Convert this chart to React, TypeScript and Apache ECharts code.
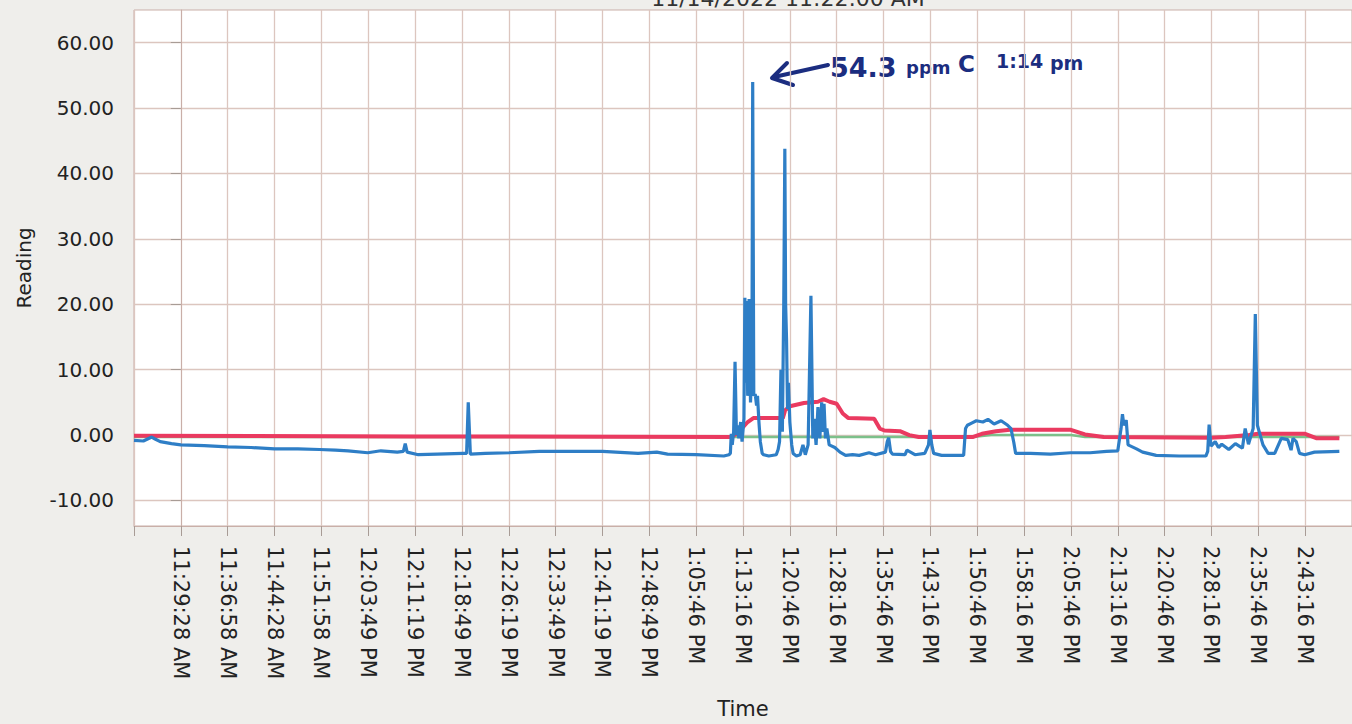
import React, { useEffect, useRef } from 'react';
import * as echarts from 'echarts';

// Tick labels of the time axis (one per grid column)
const TIME_LABELS = [
  '11:29:28 AM', '11:36:58 AM', '11:44:28 AM', '11:51:58 AM', '12:03:49 PM',
  '12:11:19 PM', '12:18:49 PM', '12:26:19 PM', '12:33:49 PM', '12:41:19 PM',
  '12:48:49 PM', '1:05:46 PM', '1:13:16 PM', '1:20:46 PM', '1:28:16 PM',
  '1:35:46 PM', '1:43:16 PM', '1:50:46 PM', '1:58:16 PM', '2:05:46 PM',
  '2:13:16 PM', '2:20:46 PM', '2:28:16 PM', '2:35:46 PM', '2:43:16 PM',
];

const Y_TICKS = [-10, 0, 10, 20, 30, 40, 50, 60];

// Readings: [position along time axis (in tick-label steps), reading]
const BLUE_READING: [number, number][] = [
  [-1.0, -0.8], [-0.8, -0.9], [-0.62, -0.3], [-0.55, -0.6], [-0.44, -1.0], [-0.2, -1.3],
  [0.0, -1.5], [0.5, -1.6], [1.0, -1.8], [1.5, -1.9], [2.0, -2.1], [2.5, -2.1],
  [2.96, -2.2], [3.3, -2.3], [3.57, -2.4], [3.99, -2.7], [4.27, -2.4], [4.62, -2.6],
  [4.75, -2.5], [4.79, -1.3], [4.83, -2.6], [5.07, -3.0], [5.47, -2.9], [6.02, -2.8],
  [6.1, -2.8], [6.135, 5.0], [6.18, -2.9], [6.5, -2.8], [7.01, -2.7], [7.65, -2.5],
  [8.3, -2.5], [9.0, -2.5], [9.76, -2.8], [10.16, -2.6], [10.39, -2.9], [11.0, -3.0],
  [11.59, -3.2], [11.7, -3.0], [11.73, -2.8], [11.75, 0.2], [11.77, -1.5], [11.8, 0.5],
  [11.83, 11.2], [11.86, 0.0], [11.89, 1.5], [11.91, -0.5], [11.95, 2.0], [11.98, -1.0],
  [12.02, 2.5], [12.04, 21.0], [12.06, 8.0], [12.08, 20.5], [12.1, 6.0], [12.13, 20.8],
  [12.16, 5.0], [12.19, 10.0], [12.207, 54.0], [12.23, 6.0], [12.26, 6.3], [12.29, 4.5],
  [12.31, 6.0], [12.34, 2.0], [12.37, -1.0], [12.41, -2.8], [12.44, -3.0], [12.55, -3.2],
  [12.71, -3.0], [12.75, -2.2], [12.78, -1.0], [12.81, 10.0], [12.84, 0.5], [12.87, 20.0],
  [12.893, 43.8], [12.91, 20.0], [12.93, 14.5], [12.95, 4.0], [12.97, 8.0], [13.0, 2.0],
  [13.04, -1.5], [13.07, -2.8], [13.14, -3.2], [13.22, -3.0], [13.28, -1.5], [13.33, -3.0],
  [13.39, -1.5], [13.45, 21.3], [13.49, -0.5], [13.52, 2.5], [13.56, -1.5], [13.6, 4.3],
  [13.64, -0.5], [13.68, 5.0], [13.7, 0.5], [13.73, 4.8], [13.76, -0.5], [13.79, 1.0],
  [13.84, -1.5], [13.96, -1.9], [14.07, -2.6], [14.19, -3.1], [14.34, -3.0], [14.48, -3.1],
  [14.69, -2.7], [14.83, -3.0], [15.04, -2.6], [15.08, -1.0], [15.11, -0.4], [15.15, -2.5],
  [15.19, -2.9], [15.46, -3.0], [15.5, -2.3], [15.67, -3.0], [15.88, -2.8], [15.96, -1.5],
  [15.99, 0.8], [16.03, -1.5], [16.07, -2.8], [16.24, -3.1], [16.71, -3.1], [16.75, 1.0],
  [16.79, 1.5], [16.87, 1.8], [16.98, 2.2], [17.12, 2.0], [17.23, 2.4], [17.36, 1.7],
  [17.51, 2.2], [17.65, 1.5], [17.72, 1.0], [17.78, -1.1], [17.82, -2.8], [18.14, -2.8],
  [18.56, -2.9], [18.99, -2.7], [19.41, -2.7], [19.76, -2.5], [20.0, -2.4], [20.07, 1.0],
  [20.1, 3.2], [20.13, 1.5], [20.18, 2.3], [20.22, -1.5], [20.4, -2.1], [20.53, -2.6],
  [20.82, -3.1], [21.31, -3.2], [21.88, -3.2], [21.92, -2.5], [21.95, 1.6], [21.99, -1.7],
  [22.08, -1.0], [22.15, -1.9], [22.22, -1.4], [22.37, -2.2], [22.51, -1.3], [22.66, -2.0],
  [22.72, 1.0], [22.79, -1.4], [22.89, 1.0], [22.936, 18.5], [22.98, 1.5], [23.04, 0.0],
  [23.1, -1.5], [23.21, -2.8], [23.35, -2.8], [23.49, -0.5], [23.63, -0.7], [23.7, -2.3],
  [23.74, -0.5], [23.81, -1.0], [23.88, -2.8], [23.99, -3.0], [24.2, -2.6], [24.73, -2.5],
];

const RED_READING: [number, number][] = [
  [-1.0, -0.1], [5.0, -0.2], [11.75, -0.3], [11.9, 0.4], [12.0, 1.2], [12.1, 2.0],
  [12.22, 2.6], [12.85, 2.6], [12.9, 3.8], [13.0, 4.4], [13.3, 4.9], [13.6, 5.1],
  [13.72, 5.5], [13.85, 5.1], [14.0, 4.8], [14.13, 3.3], [14.25, 2.6], [14.8, 2.5],
  [14.92, 1.0], [15.02, 0.7], [15.35, 0.6], [15.55, 0.0], [15.75, -0.3], [16.9, -0.3],
  [17.1, 0.2], [17.4, 0.6], [17.7, 0.8], [19.0, 0.8], [19.3, 0.1], [19.7, -0.3],
  [22.0, -0.4], [22.3, -0.3], [22.8, 0.0], [23.0, 0.2], [24.0, 0.2], [24.25, -0.5],
  [24.73, -0.5],
];

const GREEN_READING: [number, number][] = [
  [-1.0, -0.3], [16.9, -0.3], [17.3, 0.0], [19.0, 0.0], [19.3, -0.3], [24.73, -0.3],
];

const FONT = 'DejaVu Sans';
const GRID_COLOR = '#dcc6bf';
const BORDER_COLOR = '#c9afa8';
const INK = '#1b2d80';

export default function App() {
  const ref = useRef<HTMLDivElement>(null);

  useEffect(() => {
    if (!ref.current) return;
    const chart = echarts.init(ref.current, undefined, { renderer: 'svg' });
    chart.setOption({
      animation: false,
      backgroundColor: '#efeeeb',
      grid: {
        left: 134,
        top: 10,
        right: -13,
        bottom: 196,
        show: true,
        backgroundColor: '#ffffff',
        borderColor: BORDER_COLOR,
        borderWidth: 1,
      },
      xAxis: {
        type: 'value',
        min: -1,
        max: 25,
        interval: 1,
        name: 'Time',
        nameLocation: 'middle',
        nameGap: 172,
        nameTextStyle: { fontFamily: FONT, fontSize: 21, color: '#222' },
        axisLine: { show: true, onZero: false, lineStyle: { color: BORDER_COLOR } },
        axisTick: { show: true, length: 10, lineStyle: { color: '#a89c96' } },
        axisLabel: {
          rotate: -90,
          margin: 20,
          fontFamily: FONT,
          fontSize: 21,
          color: '#222',
          formatter: (v: number) => {
            const i = Math.round(v);
            return i >= 0 && i < TIME_LABELS.length ? TIME_LABELS[i] : '';
          },
        },
        splitLine: { show: true, lineStyle: { color: GRID_COLOR, width: 1.3 } },
      },
      yAxis: {
        type: 'value',
        min: -13.9,
        max: 65,
        splitNumber: 8,
        name: 'Reading',
        nameLocation: 'middle',
        nameGap: 100,
        nameTextStyle: { fontFamily: FONT, fontSize: 20, color: '#222' },
        axisLine: { show: true, lineStyle: { color: BORDER_COLOR } },
        axisTick: { show: true, length: 10, lineStyle: { color: '#a89c96' }, customValues: Y_TICKS },
        axisLabel: {
          customValues: Y_TICKS,
          margin: 20,
          fontFamily: FONT,
          fontSize: 20,
          color: '#222',
          formatter: (v: number) => v.toFixed(2),
        },
        splitLine: { show: true, lineStyle: { color: GRID_COLOR, width: 1.3 } },
      },
      series: [
        {
          name: 'Green',
          type: 'line',
          data: GREEN_READING,
          showSymbol: false,
          lineStyle: { color: '#7cc08a', width: 2.5 },
          itemStyle: { color: '#7cc08a' },
          z: 2,
        },
        {
          name: 'Red',
          type: 'line',
          data: RED_READING,
          showSymbol: false,
          lineStyle: { color: '#ea3a60', width: 4 },
          itemStyle: { color: '#ea3a60' },
          z: 3,
        },
        {
          name: 'Blue',
          type: 'line',
          data: BLUE_READING,
          showSymbol: false,
          lineStyle: { color: '#2e7ec6', width: 3.2 },
          itemStyle: { color: '#2e7ec6' },
          z: 4,
        },
      ],
      graphic: [
        {
          type: 'text',
          x: 788,
          y: 9,
          style: {
            text: '11/14/2022 11:22:00 AM',
            fontFamily: FONT,
            fontSize: 22,
            fill: '#333',
            align: 'center',
            verticalAlign: 'bottom',
          },
        },
        {
          type: 'line',
          shape: { x1: 828, y1: 65, x2: 774, y2: 77 },
          style: { stroke: INK, lineWidth: 4, lineCap: 'round' },
        },
        {
          type: 'polyline',
          shape: { points: [[787, 63], [772, 78], [793, 85]] },
          style: { stroke: INK, lineWidth: 4, fill: 'none', lineCap: 'round', lineJoin: 'round' },
        },
        {
          type: 'text', x: 830, y: 67,
          style: { text: '54.3', fontFamily: FONT, fontSize: 27, fontWeight: 'bold', fill: INK, verticalAlign: 'middle' },
        },
        {
          type: 'text', x: 906, y: 67,
          style: { text: 'ppm', fontFamily: FONT, fontSize: 18, fontWeight: 'bold', fill: INK, verticalAlign: 'middle' },
        },
        {
          type: 'text', x: 958, y: 64,
          style: { text: 'C', fontFamily: FONT, fontSize: 23, fontWeight: 'bold', fill: INK, verticalAlign: 'middle' },
        },
        {
          type: 'text', x: 996, y: 61,
          style: { text: '1:14', fontFamily: FONT, fontSize: 19, fontWeight: 'bold', fill: INK, verticalAlign: 'middle' },
        },
        {
          type: 'text', x: 1050, y: 63,
          style: { text: 'pm', fontFamily: FONT, fontSize: 19, fontWeight: 'bold', fill: INK, verticalAlign: 'middle' },
        },
      ],
    });
    return () => chart.dispose();
  }, []);

  return (
    <div
      ref={ref}
      style={{ position: 'fixed', left: 0, top: 0, width: 1352, height: 724 }}
    />
  );
}
